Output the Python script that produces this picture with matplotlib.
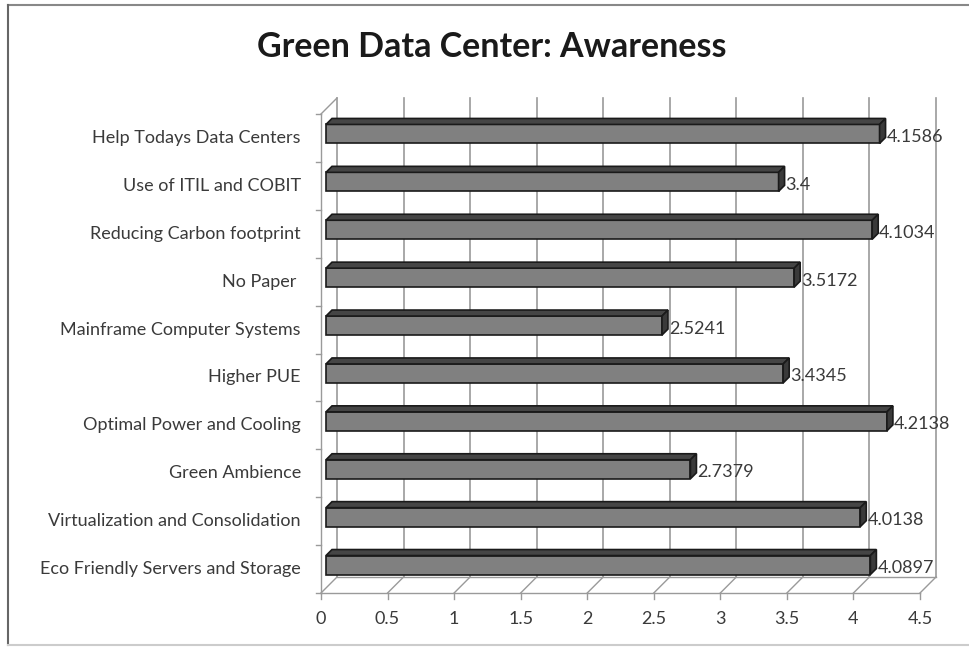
import matplotlib.pyplot as plt
from matplotlib.patches import Polygon, Rectangle
from matplotlib.lines import Line2D

categories = ['Eco Friendly Servers and Storage', 'Virtualization and Consolidation',
              'Green Ambience', 'Optimal Power and Cooling', 'Higher PUE',
              'Mainframe Computer Systems', 'No Paper ', 'Reducing Carbon footprint',
              'Use of ITIL and COBIT', 'Help Todays Data Centers']
values = [4.0897, 4.0138, 2.7379, 4.2138, 3.4345, 2.5241, 3.5172, 4.1034, 3.4, 4.1586]
value_labels = ['4.0897', '4.0138', '2.7379', '4.2138', '3.4345', '2.5241', '3.5172',
                '4.1034', '3.4', '4.1586']
xticks = [0, 0.5, 1, 1.5, 2, 2.5, 3, 3.5, 4, 4.5]
xticklabels = ['0', '0.5', '1', '1.5', '2', '2.5', '3', '3.5', '4', '4.5']

plt.rcParams['font.family'] = ['Lato', 'DejaVu Sans']

W, H = 969, 647
fig = plt.figure(figsize=(W / 100, H / 100), dpi=100)
# front plane of the 3D plot, in pixels
x0, x1, ybot, ytop = 321, 920, 593, 114
ax = fig.add_axes([x0 / W, (H - ybot) / H, (x1 - x0) / W, (ybot - ytop) / H])
ax.set_xlim(0, 4.5)
ax.set_ylim(0, len(categories))
ax.axis('off')

px_x = 4.5 / (x1 - x0)          # data units per pixel
px_y = len(categories) / (ybot - ytop)

wdx, wdy = 16 * px_x, 16 * px_y   # wall depth
grid_c = '#9a9a9a'
txt_c = '#3a3a3a'
n = len(categories)

# back wall gridlines + floor lines
for t, lab in zip(xticks, xticklabels):
    ax.plot([t + wdx, t + wdx], [wdy, n + wdy], color=grid_c, lw=1.2, clip_on=False)
    ax.plot([t, t + wdx], [0, wdy], color=grid_c, lw=1.0, clip_on=False)
    ax.plot([t, t], [0, -6 * px_y], color=grid_c, lw=1.0, clip_on=False)
    ax.text(t, -26 * px_y, lab, ha='center', va='center',
            fontsize=13, color=txt_c, clip_on=False)
# floor front edge and back edge
ax.plot([0, 4.5], [0, 0], color=grid_c, lw=1.0, clip_on=False)
ax.plot([wdx, 4.5 + wdx], [wdy, wdy], color=grid_c, lw=1.0, clip_on=False)
# left wall
ax.plot([0, 0], [0, n], color=grid_c, lw=1.0, clip_on=False)
ax.plot([0, wdx], [n, n + wdy], color=grid_c, lw=1.0, clip_on=False)
for k in range(n + 1):
    ax.plot([-5 * px_x, 0], [k, k], color=grid_c, lw=1.0, clip_on=False)

# bars
ox, oy = 5 * px_x, 4 * px_y
bdx, bdy = 6 * px_x, 6 * px_y
bh = 19 * px_y
for i, v in enumerate(values):
    yc = i + 0.5
    xa, xb = ox, v + ox
    ya, yb = yc - bh / 2 + oy, yc + bh / 2 + oy
    ax.add_patch(Rectangle((xa, ya), xb - xa, yb - ya, facecolor='#808080',
                           edgecolor='#1a1a1a', lw=1.2, clip_on=False, zorder=3))
    ax.add_patch(Polygon([(xa, yb), (xb, yb), (xb + bdx, yb + bdy), (xa + bdx, yb + bdy)],
                         facecolor='#454545', edgecolor='#1a1a1a', lw=1.2,
                         clip_on=False, zorder=3))
    ax.add_patch(Polygon([(xb, ya), (xb + bdx, ya + bdy), (xb + bdx, yb + bdy), (xb, yb)],
                         facecolor='#3a3a3a', edgecolor='#1a1a1a', lw=1.2,
                         clip_on=False, zorder=3))
    ax.text(xb + bdx + 1 * px_x, yc + 1 * px_y, value_labels[i], ha='left', va='center',
            fontsize=13, color=txt_c, zorder=4)
    ax.text(-20 * px_x, yc, categories[i], ha='right', va='center',
            fontsize=13, color=txt_c)

fig.text(492 / W, 1 - 47 / H, 'Green Data Center: Awareness', ha='center', va='center',
         fontsize=24.5, fontweight='bold', color='#1a1a1a')

# chart frame (partly cropped in the original)
fig.lines.append(Line2D([8 / W, 1], [1 - 5 / H, 1 - 5 / H], transform=fig.transFigure,
                        color='#888888', lw=1.5))
fig.lines.append(Line2D([8 / W, 8 / W], [1 - 5 / H, 1 - 645 / H], transform=fig.transFigure,
                        color='#666666', lw=1.5))
fig.lines.append(Line2D([8 / W, 1], [1 - 645 / H, 1 - 645 / H], transform=fig.transFigure,
                        color='#cccccc', lw=1.5))

fig.savefig('out.png', dpi=100)
